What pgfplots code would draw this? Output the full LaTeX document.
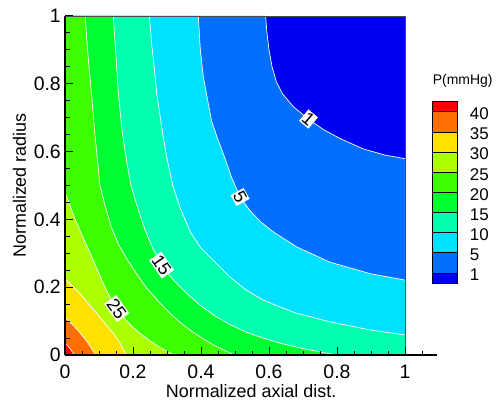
\documentclass[border=0pt]{standalone}
\usepackage{pgfplots}
\pgfplotsset{compat=1.18}
\usepackage{fontspec}
\setmainfont{Liberation Sans}

\definecolor{c0}{RGB}{0,0,240}
\definecolor{c1}{RGB}{0,110,255}
\definecolor{c5}{RGB}{0,225,255}
\definecolor{c10}{RGB}{0,255,175}
\definecolor{c15}{RGB}{0,255,50}
\definecolor{c20}{RGB}{60,255,0}
\definecolor{c25}{RGB}{170,255,0}
\definecolor{c30}{RGB}{255,225,0}
\definecolor{c35}{RGB}{255,110,0}
\definecolor{c40}{RGB}{255,0,0}

\begin{document}
\begin{tikzpicture}
\useasboundingbox (-65bp,-53bp) rectangle (436bp,355bp);
\begin{axis}[
  at={(0,0)}, anchor=south west,
  scale only axis, width=372.3bp, height=339bp,
  xmin=0, xmax=1.095, ymin=0, ymax=1,
  axis lines*=left,
  axis on top,
  axis line style={line width=1.5pt},
  tick align=inside,
  xtick={0,0.2,0.4,0.6,0.8,1}, ytick={0,0.2,0.4,0.6,0.8,1},
  minor xtick={0.05,0.1,0.15,0.25,0.3,0.35,0.45,0.5,0.55,0.65,0.7,0.75,0.85,0.9,0.95,1.05},
  minor ytick={0.05,0.1,0.15,0.25,0.3,0.35,0.45,0.5,0.55,0.65,0.7,0.75,0.85,0.9,0.95},
  major tick length=8bp, minor tick length=4.5bp,
  every tick/.style={black, line width=1pt},
  /pgf/number format/assume math mode=true,
  ticklabel style={font=\fontsize{19.5}{22}\selectfont},
  xticklabel style={anchor=north, inner sep=0pt, yshift=-10bp},
  yticklabel style={anchor=east, inner sep=0pt, xshift=-4bp},
  label style={font=\fontsize{18}{20}\selectfont},
  xlabel={Normalized axial dist.},
  ylabel={Normalized radius},
  xlabel style={at={(axis description cs:0.5,-0.1239)}, anchor=base},
  ylabel style={at={(axis description cs:-0.1048,0.5)}, anchor=base, rotate=0},
]
% background (< 1)
\addplot[fill=c0, draw=none] coordinates {(0,0)(1,0)(1,1)(0,1)} --cycle;
% 1 - 5
\addplot[fill=c1, draw=none] coordinates {(0.590,1.0)(0.594,0.95)(0.600,0.90)(0.609,0.85)(0.622,0.805)(0.640,0.77)(0.672,0.732)(0.716,0.696)(0.76,0.665)(0.81,0.638)(0.877,0.608)(0.94,0.59)(1.0,0.579)(1,0)(0,0)(0,1)} --cycle;
% 5 - 10
\addplot[fill=c5, draw=none] coordinates {(0.392,1.0)(0.398,0.9)(0.407,0.819)(0.42,0.75)(0.431,0.691)(0.448,0.64)(0.466,0.593)(0.490,0.524)(0.515,0.466)(0.544,0.426)(0.575,0.393)(0.613,0.363)(0.681,0.319)(0.779,0.274)(0.897,0.240)(1.0,0.221)(1,0)(0,0)(0,1)} --cycle;
% 10 - 15
\addplot[fill=c10, draw=none] coordinates {(0.248,1.0)(0.255,0.917)(0.262,0.85)(0.270,0.77)(0.289,0.642)(0.302,0.57)(0.317,0.5)(0.34,0.43)(0.37,0.36)(0.40,0.315)(0.436,0.279)(0.485,0.230)(0.534,0.191)(0.583,0.162)(0.632,0.142)(0.681,0.123)(0.779,0.098)(0.897,0.074)(1.0,0.059)(1,0)(0,0)(0,1)} --cycle;
% 15 - 20
\addplot[fill=c15, draw=none] coordinates {(0.142,1.0)(0.150,0.88)(0.157,0.77)(0.168,0.66)(0.180,0.58)(0.194,0.5)(0.212,0.44)(0.235,0.37)(0.258,0.315)(0.284,0.265)(0.32,0.22)(0.36,0.18)(0.40,0.145)(0.44,0.116)(0.485,0.09)(0.534,0.067)(0.583,0.05)(0.632,0.035)(0.70,0.019)(0.76,0.007)(0.80,0)(0,0)(0,1)} --cycle;
% 20 - 25
\addplot[fill=c20, draw=none] coordinates {(0.059,1.0)(0.068,0.88)(0.078,0.77)(0.090,0.63)(0.103,0.5)(0.118,0.44)(0.137,0.375)(0.158,0.325)(0.181,0.285)(0.21,0.24)(0.24,0.198)(0.275,0.158)(0.31,0.122)(0.34,0.095)(0.37,0.072)(0.40,0.052)(0.436,0.03)(0.47,0.013)(0.50,0.0)(0,0)(0,1)} --cycle;
% 25 - 30
\addplot[fill=c25, draw=none] coordinates {(0,0.48)(0.015,0.44)(0.03,0.40)(0.045,0.365)(0.065,0.32)(0.083,0.28)(0.10,0.24)(0.113,0.21)(0.13,0.175)(0.152,0.137)(0.175,0.108)(0.201,0.08)(0.225,0.06)(0.25,0.042)(0.28,0.022)(0.32,0.0)(0,0)} --cycle;
% 30 - 35
\addplot[fill=c30, draw=none] coordinates {(0,0.225)(0.02,0.205)(0.044,0.181)(0.07,0.15)(0.093,0.123)(0.118,0.093)(0.142,0.064)(0.162,0.035)(0.18,0.0)(0,0)} --cycle;
% 35 - 40
\addplot[fill=c35, draw=none] coordinates {(0,0.11)(0.022,0.09)(0.044,0.066)(0.068,0.035)(0.09,0.0)(0,0)} --cycle;
% > 40
\addplot[fill=c40, draw=none] coordinates {(0,0.036)(0.014,0.02)(0.028,0.0)(0,0)} --cycle;

% contour lines
\begin{scope}[line width=0.7pt, line join=round]
\addplot[white] coordinates {(0.590,1.0)(0.594,0.95)(0.600,0.90)(0.609,0.85)(0.622,0.805)(0.640,0.77)(0.672,0.732)(0.716,0.696)(0.76,0.665)(0.81,0.638)(0.877,0.608)(0.94,0.59)(1.0,0.579)};
\addplot[white] coordinates {(0.392,1.0)(0.398,0.9)(0.407,0.819)(0.42,0.75)(0.431,0.691)(0.448,0.64)(0.466,0.593)(0.490,0.524)(0.515,0.466)(0.544,0.426)(0.575,0.393)(0.613,0.363)(0.681,0.319)(0.779,0.274)(0.897,0.240)(1.0,0.221)};
\addplot[white] coordinates {(0.248,1.0)(0.255,0.917)(0.262,0.85)(0.270,0.77)(0.289,0.642)(0.302,0.57)(0.317,0.5)(0.34,0.43)(0.37,0.36)(0.40,0.315)(0.436,0.279)(0.485,0.230)(0.534,0.191)(0.583,0.162)(0.632,0.142)(0.681,0.123)(0.779,0.098)(0.897,0.074)(1.0,0.059)};
\addplot[white] coordinates {(0.142,1.0)(0.150,0.88)(0.157,0.77)(0.168,0.66)(0.180,0.58)(0.194,0.5)(0.212,0.44)(0.235,0.37)(0.258,0.315)(0.284,0.265)(0.32,0.22)(0.36,0.18)(0.40,0.145)(0.44,0.116)(0.485,0.09)(0.534,0.067)(0.583,0.05)(0.632,0.035)(0.70,0.019)(0.76,0.007)(0.80,0)};
\addplot[white] coordinates {(0.059,1.0)(0.068,0.88)(0.078,0.77)(0.090,0.63)(0.103,0.5)(0.118,0.44)(0.137,0.375)(0.158,0.325)(0.181,0.285)(0.21,0.24)(0.24,0.198)(0.275,0.158)(0.31,0.122)(0.34,0.095)(0.37,0.072)(0.40,0.052)(0.436,0.03)(0.47,0.013)(0.50,0.0)};
\addplot[white] coordinates {(0,0.48)(0.015,0.44)(0.03,0.40)(0.045,0.365)(0.065,0.32)(0.083,0.28)(0.10,0.24)(0.113,0.21)(0.13,0.175)(0.152,0.137)(0.175,0.108)(0.201,0.08)(0.225,0.06)(0.25,0.042)(0.28,0.022)(0.32,0.0)};
\addplot[white] coordinates {(0,0.225)(0.02,0.205)(0.044,0.181)(0.07,0.15)(0.093,0.123)(0.118,0.093)(0.142,0.064)(0.162,0.035)(0.18,0.0)};
\addplot[white] coordinates {(0,0.11)(0.022,0.09)(0.044,0.066)(0.068,0.035)(0.09,0.0)};
\addplot[white] coordinates {(0,0.036)(0.014,0.02)(0.028,0.0)};
\end{scope}
% thin frame top/right
\addplot[draw=black!70, line width=0.5pt] coordinates {(0,1)(1,1)(1,0)};

% contour labels
\begin{scope}[every node/.style={fill=white, inner sep=1.2pt, font=\fontsize{18}{20}\selectfont}]
\node[rotate=-40] at (axis cs:0.716,0.696) {1};
\node[rotate=-61] at (axis cs:0.515,0.466) {5};
\node[rotate=-55] at (axis cs:0.284,0.265) {15};
\node[rotate=-54] at (axis cs:0.152,0.137) {25};
\end{scope}
\end{axis}

% colour bar
\begin{axis}[
  at={(367.7bp,72bp)}, anchor=south west,
  scale only axis, width=25bp, height=181.3bp,
  xmin=0, xmax=1, ymin=0.5, ymax=9.5,
  clip=false,
  hide x axis,
  axis y line*=right,
  y axis line style={draw=none},
  ytick={1,2,3,4,5,6,7,8,9},
  yticklabels={1,5,10,15,20,25,30,35,40},
  major tick length=0pt,
  ytick style={draw=none},
  yticklabel style={font=\fontsize{17}{19}\selectfont, anchor=west, inner sep=0pt, xshift=12bp, yshift=-2bp},
  title={P(mmHg)},
  title style={at={(rel axis cs:0,1)}, anchor=base west, inner sep=0pt, yshift=11bp, font=\fontsize{14}{16}\selectfont},
]
\addplot[fill=c0, draw=black, line width=0.6pt] coordinates {(0,0.5)(1,0.5)(1,1)(0,1)} --cycle;
\addplot[fill=c1, draw=black, line width=0.6pt] coordinates {(0,1)(1,1)(1,2)(0,2)} --cycle;
\addplot[fill=c5, draw=black, line width=0.6pt] coordinates {(0,2)(1,2)(1,3)(0,3)} --cycle;
\addplot[fill=c10, draw=black, line width=0.6pt] coordinates {(0,3)(1,3)(1,4)(0,4)} --cycle;
\addplot[fill=c15, draw=black, line width=0.6pt] coordinates {(0,4)(1,4)(1,5)(0,5)} --cycle;
\addplot[fill=c20, draw=black, line width=0.6pt] coordinates {(0,5)(1,5)(1,6)(0,6)} --cycle;
\addplot[fill=c25, draw=black, line width=0.6pt] coordinates {(0,6)(1,6)(1,7)(0,7)} --cycle;
\addplot[fill=c30, draw=black, line width=0.6pt] coordinates {(0,7)(1,7)(1,8)(0,8)} --cycle;
\addplot[fill=c35, draw=black, line width=0.6pt] coordinates {(0,8)(1,8)(1,9)(0,9)} --cycle;
\addplot[fill=c40, draw=black, line width=0.6pt] coordinates {(0,9)(1,9)(1,9.5)(0,9.5)} --cycle;
\end{axis}
\end{tikzpicture}
\end{document}
